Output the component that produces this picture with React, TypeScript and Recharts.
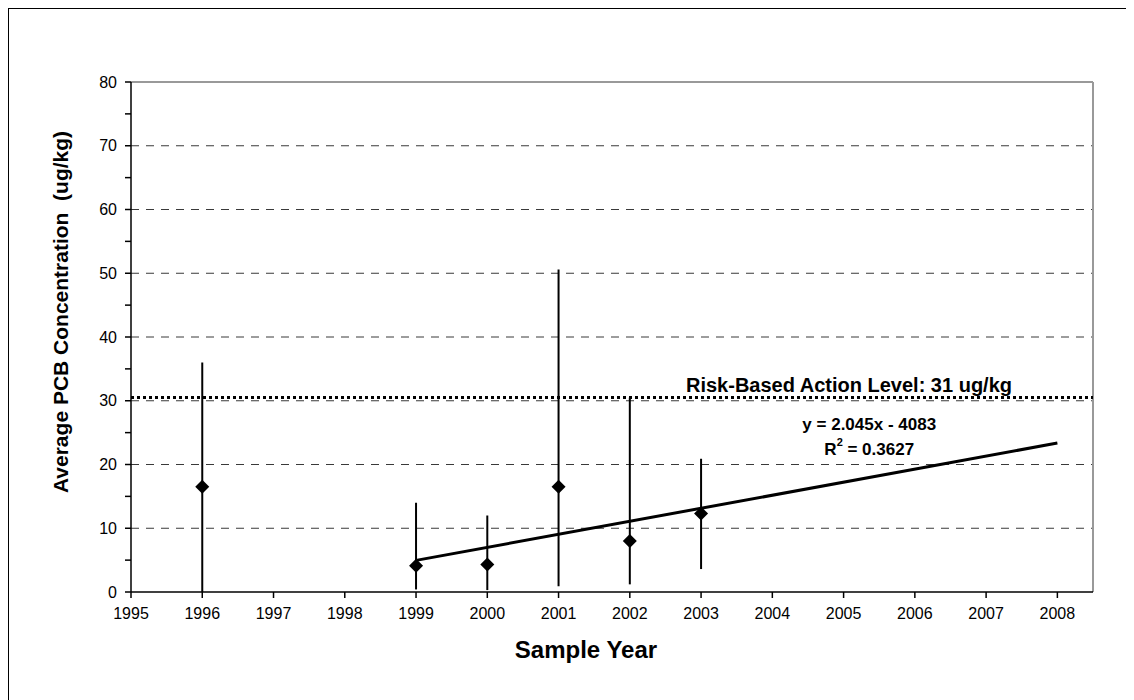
import React from 'react';
import {
  ComposedChart,
  Scatter,
  ErrorBar,
  XAxis,
  YAxis,
  ReferenceLine,
  ReferenceDot,
} from 'recharts';

// sample years and PCB averages with min / max range
const years = [1996, 1999, 2000, 2001, 2002, 2003];
const means = [16.5, 4.1, 4.3, 16.5, 8.0, 12.3];
const lows = [0, 0.4, 0.3, 0.9, 1.2, 3.6];
const highs = [36, 14.0, 12.0, 50.6, 30.5, 20.9];

const xTicks = [1995, 1996, 1997, 1998, 1999, 2000, 2001, 2002, 2003, 2004, 2005, 2006, 2007, 2008];
const yTicks = [0, 5, 10, 15, 20, 25, 30, 35, 40, 45, 50, 55, 60, 65, 70, 75, 80];
const gridLevels = [10, 20, 30, 40, 50, 60, 70];

// linear trend y = 2.045x - 4083, drawn from 1999 to 2008
const trendYears = [1999, 2008];
const trendValues = [4.96, 23.36];

const riskLevel = 30.5;
const riskLabel = 'Risk-Based Action Level: 31 ug/kg';
const equationText = 'y = 2.045x - 4083';
const rSquaredText = '0.3627';

const FONT = '"Liberation Sans", Arial, sans-serif';

const points = years.map((year, i) => ({
  year,
  mean: means[i],
  err: [means[i] - lows[i], highs[i] - means[i]],
}));

const Diamond = (props: any) => {
  const { cx, cy } = props;
  if (cx == null || cy == null) return null;
  const r = 7;
  return (
    <polygon
      points={`${cx},${cy - r} ${cx + r},${cy} ${cx},${cy + r} ${cx - r},${cy}`}
      fill="#000"
    />
  );
};

export default function App() {
  return (
    <div style={{ width: 1126, height: 692, overflow: 'hidden' }}>
      <div style={{ width: 1160, height: 720, border: '1px solid #000', boxSizing: 'border-box' }}>
        <ComposedChart
          width={1140}
          height={700}
          margin={{ top: 73, right: 56, bottom: 77, left: 62 }}
          style={{ fontFamily: FONT }}
        >
          <XAxis
            dataKey="year"
            type="number"
            domain={[1995, 2008.5]}
            ticks={xTicks}
            allowDataOverflow
            height={40}
            tickSize={6}
            tickMargin={10}
            axisLine={{ stroke: '#000', strokeWidth: 1.5 }}
            tickLine={{ stroke: '#000', strokeWidth: 1.5 }}
            tick={{ fill: '#000', fontSize: 16, fontFamily: FONT }}
            label={{
              content: () => (
                <text
                  x={577}
                  y={640}
                  textAnchor="middle"
                  dominantBaseline="central"
                  fontSize={24}
                  fontWeight="bold"
                  fontFamily={FONT}
                  fill="#000"
                >
                  Sample Year
                </text>
              ),
            }}
          />
          <YAxis
            type="number"
            domain={[0, 80]}
            ticks={yTicks}
            width={60}
            tickSize={6}
            tickMargin={8}
            interval={0}
            tickFormatter={(v: number) => (v % 10 === 0 ? String(v) : '')}
            axisLine={{ stroke: '#000', strokeWidth: 1.5 }}
            tickLine={{ stroke: '#000', strokeWidth: 1.5 }}
            tick={{ fill: '#000', fontSize: 16, fontFamily: FONT }}
            label={{
              content: () => (
                <text
                  x={51}
                  y={303}
                  transform="rotate(-90 51 303)"
                  textAnchor="middle"
                  dominantBaseline="central"
                  fontSize={21}
                  fontWeight="bold"
                  fontFamily={FONT}
                  fill="#000"
                  style={{ whiteSpace: 'pre' }}
                >
                  {'Average PCB Concentration  (ug/kg)'}
                </text>
              ),
            }}
          />

          {gridLevels.map((v) => (
            <ReferenceLine
              key={v}
              y={v}
              stroke="#3a3a3a"
              strokeWidth={1}
              strokeDasharray="8 7"
            />
          ))}
          <ReferenceLine y={80} stroke="#999" strokeWidth={2} />
          <ReferenceLine x={2008.5} stroke="#999" strokeWidth={2} />

          <ReferenceLine
            y={riskLevel}
            stroke="#000"
            strokeWidth={3}
            strokeDasharray="3 3"
            label={{
              content: (p: any) => {
                const vb = p.viewBox || {};
                return (
                  <text
                    x={vb.x + vb.width - 81}
                    y={vb.y - 6}
                    textAnchor="end"
                    fontSize={20}
                    fontWeight="bold"
                    fontFamily={FONT}
                    fill="#000"
                  >
                    {riskLabel}
                  </text>
                );
              },
            }}
          />

          <ReferenceLine
            segment={[
              { x: trendYears[0], y: trendValues[0] },
              { x: trendYears[1], y: trendValues[1] },
            ]}
            stroke="#000"
            strokeWidth={3}
          />

          <ReferenceDot
            x={2005.36}
            y={24.4}
            r={0}
            fill="none"
            stroke="none"
            label={{
              content: (p: any) => {
                const vb = p.viewBox || {};
                const cx = vb.x + (vb.width || 0) / 2;
                const cy = vb.y + (vb.height || 0) / 2;
                return (
                  <g fontFamily={FONT} fontWeight="bold" fill="#000">
                    <text x={cx} y={cy - 12} textAnchor="middle" dominantBaseline="central" fontSize={17}>
                      {equationText}
                    </text>
                    <text x={cx} y={cy + 13} textAnchor="middle" dominantBaseline="central" fontSize={17}>
                      R<tspan dy={-7} fontSize={11}>2</tspan>
                      <tspan dy={7}>{' = ' + rSquaredText}</tspan>
                    </text>
                  </g>
                );
              },
            }}
          />

          <Scatter data={points} dataKey="mean" shape={<Diamond />} isAnimationActive={false}>
            <ErrorBar dataKey="err" direction="y" width={0} stroke="#000" strokeWidth={2} />
          </Scatter>
        </ComposedChart>
      </div>
    </div>
  );
}
